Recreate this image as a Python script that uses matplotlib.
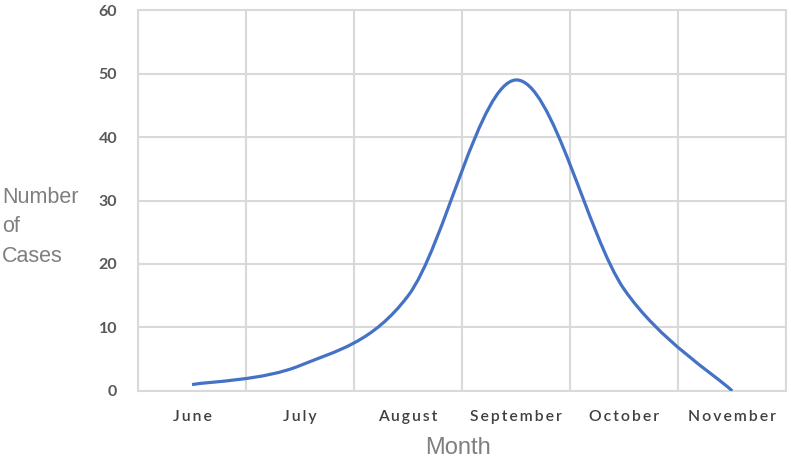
import numpy as np
import matplotlib.pyplot as plt
from matplotlib.path import Path
from matplotlib.patches import PathPatch

months = ['June', 'July', 'August', 'September', 'October', 'November']
cases = [1, 4, 15, 49, 16, 0]
y_ticks = [0, 10, 20, 30, 40, 50, 60]

grid_col = '#d9d9d9'
line_col = '#4472c4'


def smooth_path(xs, ys):
    # Excel-like smoothed line: cubic Bezier segments with Catmull-Rom tangents
    pts = np.column_stack([xs, ys]).astype(float)
    n = len(pts)
    verts = [pts[0]]
    codes = [Path.MOVETO]
    for i in range(n - 1):
        p0 = pts[i - 1] if i > 0 else pts[i]
        p1 = pts[i]
        p2 = pts[i + 1]
        p3 = pts[i + 2] if i + 2 < n else pts[i + 1]
        c1 = p1 + (p2 - p0) / 6.0
        c2 = p2 - (p3 - p1) / 6.0
        verts += [c1, c2, p2]
        codes += [Path.CURVE4] * 3
    return Path(verts, codes)


def spaced(s):
    # the reference uses wide letter spacing on the month labels
    return '\u2009'.join(s)


fig = plt.figure(figsize=(7.91, 4.61), dpi=100)
ax = fig.add_axes([0.1745, 0.152, 0.8195, 0.826])

x = np.arange(len(months))
ax.add_patch(PathPatch(smooth_path(x, cases), facecolor='none',
                       edgecolor=line_col, lw=2.3, capstyle='butt', zorder=3))

ax.set_xlim(-0.5, len(months) - 0.5)
ax.set_ylim(0, 60)
ax.set_yticks(y_ticks)
ax.set_xticks(x)
ax.set_xticks(np.arange(len(months) + 1) - 0.5, minor=True)
ax.set_xticklabels([spaced(m) for m in months], family=['Lato', 'DejaVu Sans'],
                   fontsize=11.3, color='#404040', fontweight='semibold')
ax.set_yticklabels([str(v) for v in y_ticks], family='Lato', fontsize=11.5,
                   color='#595959', fontweight='bold')
ax.tick_params(axis='both', which='both', length=0)
ax.tick_params(axis='x', pad=14)
ax.tick_params(axis='y', pad=15)

ax.grid(axis='y', color=grid_col, lw=1.5)
ax.grid(axis='x', which='minor', color=grid_col, lw=1.5)
ax.set_axisbelow(True)
for sp in ax.spines.values():
    sp.set_color(grid_col)
    sp.set_linewidth(1.5)

fig.text(0.579, 0.004, 'Month', family='Liberation Sans', fontsize=17,
         color='#7f7f7f', ha='center', va='bottom')
fig.text(0.003, 0.508, 'Number\nof\nCases', family='Liberation Sans',
         fontsize=15.5, color='#7f7f7f', ha='left', va='center',
         linespacing=1.55)

fig.savefig('out.png', dpi=100)
